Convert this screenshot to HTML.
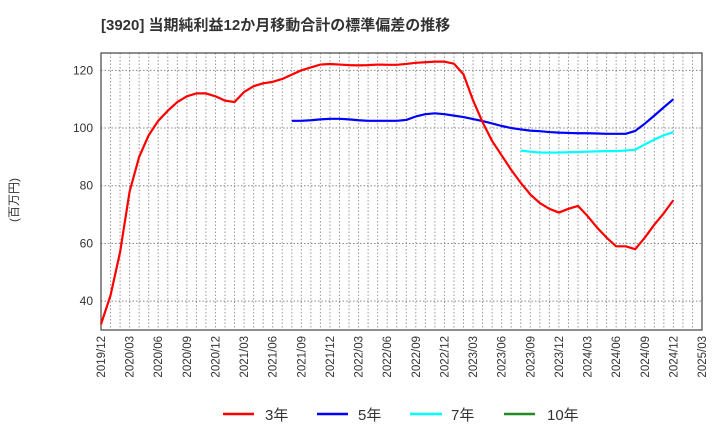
<!DOCTYPE html>
<html><head><meta charset="utf-8"><style>
body{margin:0;background:#fff;}
svg{display:block;font-family:"Liberation Sans","Noto Sans CJK JP",sans-serif;}
</style></head><body>
<svg id="chart" width="720" height="440" viewBox="0 0 720 440">
<text x="101" y="30" font-size="15" font-weight="bold" fill="#333">[3920]  当期純利益12か月移動合計の標準偏差の推移</text>
<text transform="translate(18,200) rotate(-90)" text-anchor="middle" font-size="12" fill="#333">(百万円)</text>
<g id="grid"></g><g id="axes"></g><g id="series"></g>
<g>
<line x1="223" y1="414" x2="254" y2="414" stroke="#ff0000" stroke-width="2.5"/><text x="265" y="420" font-size="15" fill="#333">3年</text>
<line x1="317" y1="414" x2="348" y2="414" stroke="#0000ff" stroke-width="2.5"/><text x="358" y="420" font-size="15" fill="#333">5年</text>
<line x1="410" y1="414" x2="442" y2="414" stroke="#00ffff" stroke-width="2.5"/><text x="451" y="420" font-size="15" fill="#333">7年</text>
<line x1="504" y1="414" x2="535" y2="414" stroke="#228b22" stroke-width="2.5"/><text x="547" y="420" font-size="15" fill="#333">10年</text>
</g>
</svg>
<script>
const yTicks=[40,60,80,100,120];
const xTickLabels=["2019/12","2020/03","2020/06","2020/09","2020/12","2021/03","2021/06","2021/09","2021/12","2022/03","2022/06","2022/09","2022/12","2023/03","2023/06","2023/09","2023/12","2024/03","2024/06","2024/09","2024/12","2025/03"];
const s3=[32,42,57,78,90,97.5,102.5,106,109,111,112,112,111,109.5,109,112.5,114.5,115.5,116,117,118.5,120,121,122,122.2,122,121.8,121.7,121.8,122,121.9,121.9,122.2,122.6,122.8,123,123,122.3,118.6,109.6,102,95.5,90.5,85.5,81,77,74,72,70.7,72,73,69.5,65.5,62,59,59,58,62,66.5,70.5,75];
const s3Start=0;
const s5=[102.5,102.5,102.7,103,103.2,103.2,103,102.7,102.5,102.5,102.5,102.5,102.8,104,104.8,105.1,104.8,104.3,103.8,103.1,102.4,101.6,100.7,100,99.5,99.1,98.9,98.6,98.4,98.3,98.2,98.2,98.1,98,98,98,99,101.5,104.3,107.2,110];
const s5Start=20;
const s7=[92.2,91.8,91.5,91.5,91.5,91.6,91.7,91.8,91.9,92,92,92.2,92.5,94.3,96,97.5,98.6];
const s7Start=44;
const X0=101,X1=702,Y0=53,Y1=330,NM=63,VMIN=30,VMAX=126;
const xs=m=>X0+(X1-X0)*m/NM;
const ys=v=>Y1-(v-VMIN)/(VMAX-VMIN)*(Y1-Y0);
const NS="http://www.w3.org/2000/svg";
function mk(t,a,p){const e=document.createElementNS(NS,t);for(const k in a)e.setAttribute(k,a[k]);p.appendChild(e);return e;}
const grid=document.getElementById('grid'),axes=document.getElementById('axes'),ser=document.getElementById('series');
for(let m=1;m<NM;m++){const l=mk('line',{x1:xs(m),x2:xs(m),y1:Y0,y2:Y1,stroke:'#999','stroke-dasharray':'1.5,2','stroke-width':1},grid);

}
yTicks.forEach(v=>{const l=mk('line',{x1:X0,x2:X1,y1:ys(v),y2:ys(v),stroke:'#888','stroke-dasharray':'1.5,2','stroke-width':1},grid);


const t=mk('text',{x:X0-8,y:ys(v)+4,'text-anchor':'end','font-size':12,fill:'#333'},axes);t.textContent=v;

});
const fr=mk('rect',{x:X0,y:Y0,width:X1-X0,height:Y1-Y0,fill:'none',stroke:'#444','stroke-width':1.2},axes);


xTickLabels.forEach((s,i)=>{const x=xs(i*3);const t=mk('text',{transform:`translate(${x+4},336) rotate(-90)`,'text-anchor':'end','font-size':11.5,fill:'#333'},axes);t.textContent=s;

});
function line(arr,start,col,name){const p=mk('polyline',{points:arr.map((v,i)=>xs(start+i)+','+ys(v)).join(' '),fill:'none',stroke:col,'stroke-width':2.2,'stroke-linejoin':'round'},ser);

}
line(s7,s7Start,'#00ffff','series-7y');
line(s5,s5Start,'#0000ff','series-5y');
line(s3,s3Start,'#ff0000','series-3y');
</script>
</body></html>
